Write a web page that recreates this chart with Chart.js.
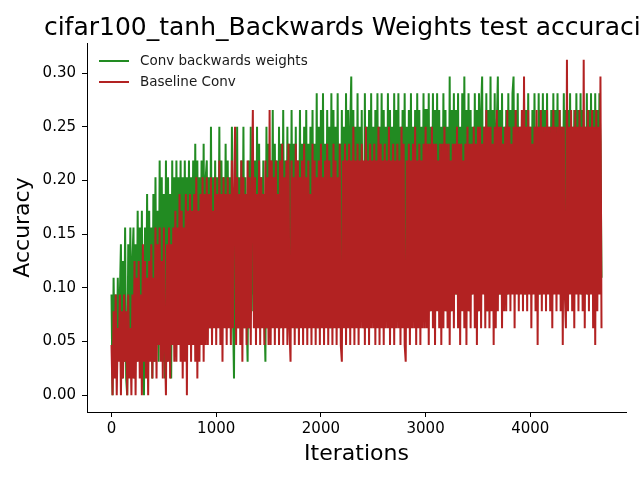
<!DOCTYPE html>
<html>
<head>
<meta charset="utf-8">
<script src="https://cdn.jsdelivr.net/npm/chart.js@4.4.0/dist/chart.umd.min.js"></script>
<style>
  html, body { margin: 0; padding: 0; background: #fff; }
</style>
</head>
<body>
<canvas id="accChart" width="640" height="480"></canvas>
<script>
const chartTitle = 'cifar100_tanh_Backwards Weights test accuracies';
const seriesNames = ['Conv backwards weights', 'Baseline Conv'];
const evalEvery = 10;   // iterations between two test evaluations
const batchSize = 64;   // test batch: accuracies come in steps of 1/64
const xTicks = [0, 1000, 2000, 3000, 4000];
const yTicks = [0, 0.05, 0.10, 0.15, 0.20, 0.25, 0.30];

// correct answers out of 64 at each evaluation
const backwardsCorrect = [
  6,0,7,2,6,1,7,3,6,9, 1,8,2,10,1,0,9,3,10,2, 8,
  10,1,9,2,11,3,10,2,11,1, 0,10,3,12,2,11,3,10,1,12,
  2,13,3,11,2,14,4,13,2,12, 1,14,2,13,3,12,1,14,3,13,
  3,14,4,13,5,14,3,13,4,14, 5,13,4,14,3,13,5,14,4,15, 3,14,4,13,5,14,3,15,4,13,
  14,5,13,4,16,5,13,6,14,5, 13,5,16,4,14,6,13,5,15,4,
  14,5,13,4,16,5,1,14,5,16, 4,13,6,14,5,16,4,13,5,2,
  14,4,16,5,13,6,14,4,16,5, 15,4,13,6,14,5,2,16,4,15,
  5,14,6,17,5,15,6,14,5,16, 4,15,6,17,5,14,6,16,5,15,
  5,17,6,15,5,16,4,14,6,17, 5,15,6,16,5,17,4,15,6,16,
  5,17,6,15,5,18,4,16,6,17, 5,18,6,15,5,17,6,16,4,18,
  5,17,6,16,5,18,6,15,5,17, 6,16,5,18,6,
  17,5,16,19,6,17,5,16,6,18, 5,16,6,17,6,4,18,5,16,6,
  17,5,18,6,16,5,17,6,18,5, 16,6,18,5,17,6,16,5,18,6,
  17,5,16,6,18,5,17,6,18,5, 16,6,17,5,18,6,16,5,17,6,
  18,5,16,6,17,5,18,6,17,5, 16,6,18,5,17,
  17,6,18,5,16,6,18,7,17,6, 18,6,17,5,16,7,18,6,17,5,
  16,6,19,5,17,7,18,6,17,6, 18,5,16,6,18,7,19,6,17,6,
  18,5,17,6,16,7,18,6,17,5, 18,6,17,19,7,16,6,18,5,17,
  6,19,7,17,6,18,5,16,19,6, 17,6,18,7,16,
  7,17,6,18,7,17,8,18,19,7, 17,7,18,6,16,8,17,7,18,6,
  17,7,18,8,16,6,17,7,18,8, 16,7,18,6,17,8,18,7,17,6,
  18,7,16,8,17,6,18,7,17,8, 18,7,17,6,16,8,18,7,17,6,
  17,7,18,8,16,6,17,7,18,8, 17,7,18,6,17,8,16,7,18,6,
  17,7,18,8,17,6,18,7,17,8, 18,15,7
];

const baselineCorrect = [
  3,0,5,1,6,0,4,2,6,0, 5,1,6,2,5,0,6,1,4,0, 6,
  1,8,0,7,2,8,1,6,0,9, 2,8,1,7,0,8,2,9,1,7,
  2,10,1,9,3,10,2,8,1,10, 3,0,9,2,10,1,9,3,10,2,
  11,2,10,3,12,2,11,1,10,2, 12,0,11,3,12,2,11,3,12,2, 13,1,11,2,12,3,13,2,12,3,
  13,3,12,4,13,3,11,4,13,3, 12,4,14,3,12,2,13,4,12,3,
  13,4,12,3,14,4,12,16,3,13, 4,12,3,14,2,13,4,12,3,14,
  4,13,3,12,17,4,13,3,12,4, 14,3,13,4,12,3,14,4,13,3,
  17,3,14,4,13,3,14,4,12,3, 14,4,15,3,13,4,14,3,15,4,
  2,14,4,13,3,15,4,14,3,13, 4,14,3,15,4,13,3,14,4,12,
  3,15,4,14,3,13,4,14,3,15, 4,13,3,14,4,15,3,14,4,13,
  3,15,4,14,3,13,4,15,3,2, 14,4,15,3,14,
  4,15,3,14,4,16,3,14,4,15, 3,14,4,15,4,14,3,16,4,14,
  3,15,4,14,4,15,3,14,4,16, 3,15,4,14,3,15,4,14,4,16,
  3,14,4,15,3,14,4,15,4,14, 3,16,4,15,3,2,14,4,15,3,
  14,4,15,4,16,3,14,4,15,3, 14,4,15,4,16,
  4,15,3,15,5,16,4,15,3,15, 5,14,4,15,3,15,4,16,5,15,
  4,15,3,14,5,15,4,15,6,16, 4,15,3,15,5,14,4,15,3,16,
  5,15,4,15,6,16,4,15,3,16, 5,16,4,15,6,16,4,17,5,16,
  4,16,5,15,3,16,4,17,5,16, 6,16,4,15,5,
  16,5,17,6,16,5,15,6,16,4, 17,6,16,5,16,6,17,5,19,6,
  16,5,17,6,16,4,15,6,16,5, 17,3,16,6,17,5,16,6,16,5,
  17,6,16,5,16,4,17,6,16,5, 16,6,17,5,16,3,16,6,4,20,
  5,16,6,17,5,16,4,17,6,16, 5,17,6,16,5,20,4,16,6,17,
  5,16,6,17,4,16,3,17,5,16, 6,19,4
];

const seriesColors = ['#228b22', '#b22222'];
const fontFamily = '"DejaVu Sans", sans-serif';

const toPoints = (counts) => counts.map((c, i) => ({ x: i * evalEvery, y: c / batchSize }));

// title centred over the plot area and legend inside it (matplotlib style)
const decorations = {
  id: 'decorations',
  afterDraw(chart) {
    const { ctx, chartArea } = chart;
    ctx.save();
    ctx.fillStyle = '#000';
    ctx.font = '25px ' + fontFamily;
    ctx.textAlign = 'center';
    ctx.textBaseline = 'alphabetic';
    ctx.fillText(chartTitle, (chartArea.left + chartArea.right) / 2, 35);

    ctx.font = '13.5px ' + fontFamily;
    ctx.textAlign = 'left';
    ctx.textBaseline = 'middle';
    chart.data.datasets.forEach((ds, i) => {
      const y = 61 + i * 21;
      ctx.strokeStyle = ds.borderColor;
      ctx.lineWidth = 2;
      ctx.beginPath();
      ctx.moveTo(99, y);
      ctx.lineTo(129, y);
      ctx.stroke();
      ctx.fillStyle = '#1a1a1a';
      ctx.fillText(ds.label, 140, y);
    });
    ctx.restore();
  }
};

new Chart(document.getElementById('accChart'), {
  type: 'line',
  data: {
    datasets: [
      {
        label: seriesNames[0],
        data: toPoints(backwardsCorrect),
        borderColor: seriesColors[0],
        borderWidth: 2,
        pointRadius: 0,
        order: 1
      },
      {
        label: seriesNames[1],
        data: toPoints(baselineCorrect),
        borderColor: seriesColors[1],
        borderWidth: 2,
        pointRadius: 0,
        order: 0
      }
    ]
  },
  options: {
    responsive: false,
    animation: false,
    devicePixelRatio: 1,
    layout: { padding: { top: 43, right: 14, left: 0, bottom: 0 } },
    plugins: {
      legend: { display: false },
      title: { display: false },
      tooltip: { enabled: false }
    },
    scales: {
      x: {
        type: 'linear',
        min: -234,
        max: 4914,
        afterBuildTicks: (s) => { s.ticks = xTicks.map(v => ({ value: v })); },
        afterFit: (s) => { s.height = 68; },
        ticks: { color: '#000', font: { family: fontFamily, size: 15 }, padding: 3, maxRotation: 0, callback: (v) => String(v) },
        grid: { drawOnChartArea: false, color: '#000', tickLength: 5 },
        border: { color: '#000', width: 1 },
        title: { display: true, text: 'Iterations', color: '#000', font: { family: fontFamily, size: 22 }, padding: { bottom: 13 } }
      },
      y: {
        min: -0.015625,
        max: 0.328125,
        afterBuildTicks: (s) => { s.ticks = yTicks.map(v => ({ value: v })); },
        afterFit: (s) => { s.width = 87; },
        ticks: { color: '#000', font: { family: fontFamily, size: 15 }, padding: 6, callback: (v) => v.toFixed(2) },
        grid: { drawOnChartArea: false, color: '#000', tickLength: 5 },
        border: { color: '#000', width: 1 },
        title: { display: true, text: 'Accuracy', color: '#000', font: { family: fontFamily, size: 22 }, padding: { top: 10 } }
      }
    }
  },
  plugins: [decorations]
});
</script>
</body>
</html>
